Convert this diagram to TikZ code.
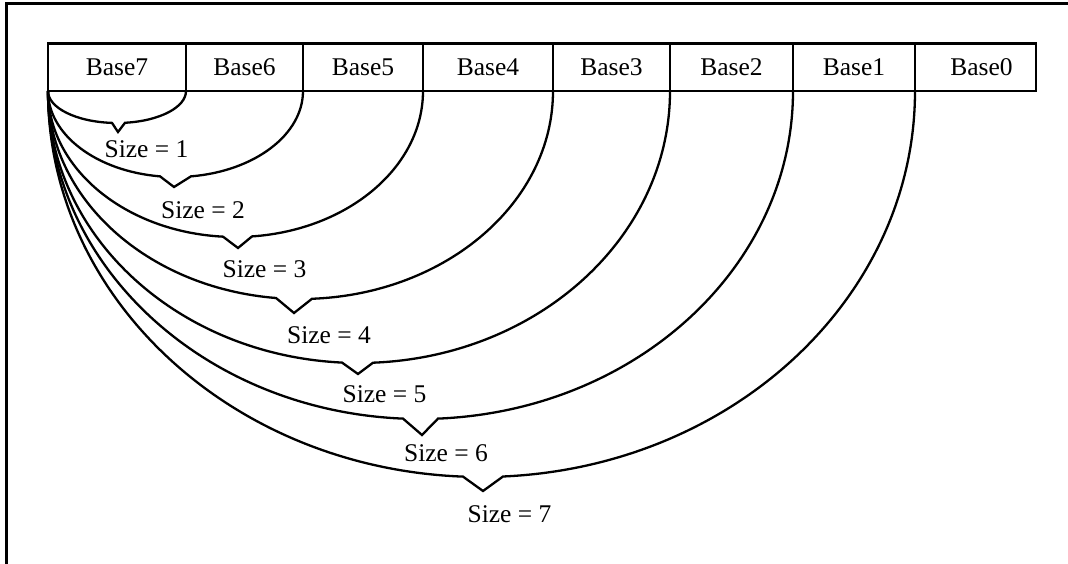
\documentclass[tikz,border=0pt]{standalone}
\usepackage{fontspec}
\setmainfont{Liberation Serif}
\begin{document}
\begin{tikzpicture}[x=1pt,y=1pt,
  txt/.style={font=\fontsize{25.5}{30}\selectfont},
  cell/.style={txt, draw, line width=2.5pt, minimum height=47.7pt, inner sep=0pt, outer sep=0pt, anchor=south west},
  brace/.style={line width=2.3pt, line join=miter},
  lbl/.style={txt, inner sep=0pt},
  frameline/.style={line width=3pt}]
\useasboundingbox (0,0) rectangle (1068,564);
\draw[frameline] (6,0) -- (6,560.5) -- (1068,560.5);
% table cells
\node[cell, minimum width=138pt] (b7) at (48,473)  {Base7};
\node[cell, minimum width=117pt] (b6) at (186,473) {Base6};
\node[cell, minimum width=120pt] (b5) at (303,473) {Base5};
\node[cell, minimum width=130pt] (b4) at (423,473) {Base4};
\node[cell, minimum width=117pt] (b3) at (553,473) {Base3};
\node[cell, minimum width=123pt] (b2) at (670,473) {Base2};
\node[cell, minimum width=122pt] (b1) at (793,473) {Base1};
\node[cell, minimum width=121pt] (b0) at (915,473) {\hspace*{12pt}Base0};
% braces
\foreach \i/\xe/\ly/\nl/\nr/\tx/\ty/\lx/\lyy in {
  1/186/123/112/125/118/132/146.5/149,
  2/303/177/160/191/174/187/203/210,
  3/423/237/223/252/238/248/264.5/269,
  4/553/299/276/312/294/313/329/335,
  5/670/363/342/373/358/374/384.5/394,
  6/793/419/403/438/422/435/446/453,
  7/915/477/463/503/483/491/509.5/514}{
  \pgfmathsetmacro\cx{(48+\xe)/2}
  \pgfmathsetmacro\rx{(\xe-48)/2}
  \pgfmathsetmacro\ry{\ly-91}
  \pgfmathsetmacro\al{360-acos((\nl-\cx)/\rx)}
  \pgfmathsetmacro\ar{360-acos((\nr-\cx)/\rx)}
  \pgfmathsetmacro\px{\cx+\rx*cos(\ar)}
  \pgfmathsetmacro\py{473+\ry*sin(\ar)}
  \coordinate (tip\i) at (\tx,564-\ty);
  \coordinate (nr\i) at (\px,\py);
  \draw[brace] (b7.south west) arc[start angle=180, end angle=\al, x radius=\rx, y radius=\ry]
     -- (tip\i) -- (nr\i) arc[start angle=\ar, end angle=360, x radius=\rx, y radius=\ry];
  \node[lbl] (s\i) at (\lx,564-\lyy) {Size = \i};
}
\end{tikzpicture}
\end{document}
